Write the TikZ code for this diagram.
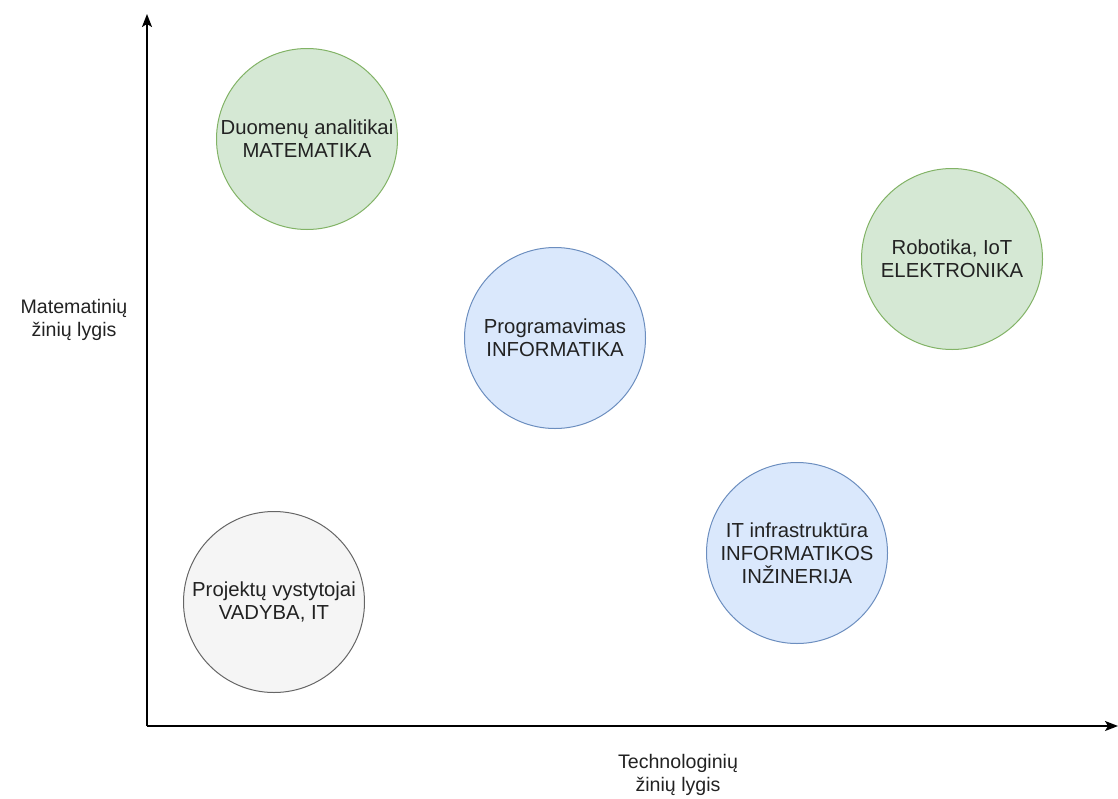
\documentclass[tikz,border=0pt]{standalone}
\usepackage{fontspec}
\setmainfont{Liberation Sans}
\usetikzlibrary{arrows.meta}
\definecolor{gfill}{HTML}{D5E8D4}\definecolor{gline}{HTML}{82B366}
\definecolor{bfill}{HTML}{DAE8FC}\definecolor{bline}{HTML}{6C8EBF}
\definecolor{nfill}{HTML}{F5F5F5}\definecolor{nline}{HTML}{666666}
\definecolor{txt}{HTML}{222222}
\begin{document}
\begin{tikzpicture}[x=1pt,y=-1pt,
  bubble/.style={circle,minimum size=181pt,inner sep=0pt,line width=1pt,align=center,text=txt,
     font=\fontsize{20.3}{23}\selectfont},
  green/.style={bubble,fill=gfill,draw=gline},
  blue/.style={bubble,fill=bfill,draw=bline},
  grey/.style={bubble,fill=nfill,draw=nline},
  axis/.style={line width=1.6pt,-{Stealth[length=13pt,width=10pt,inset=3pt]}},
  axlabel/.style={align=center,text=txt,font=\fontsize{19.6}{23.5}\selectfont}]
\useasboundingbox (0,0) rectangle (1118,798);
\coordinate (o) at (147,726);
\coordinate (ytip) at (147,14);
\coordinate (xtip) at (1118,726);
\draw[axis] (o) -- (ytip);
\draw[axis] (o) -- (xtip);
\node[green] (dat) at (307,139) {Duomenų analitikai\\MATEMATIKA};
\node[green] (rob) at (952,259) {Robotika, IoT\\ELEKTRONIKA};
\node[blue] (prog) at (555,338) {Programavimas\\INFORMATIKA};
\node[blue] (itinf) at (797,553) {IT infrastruktūra\\INFORMATIKOS\\INŽINERIJA};
\node[grey] (proj) at (274,602) {Projektų vystytojai\\VADYBA, IT};
\node[axlabel] (ylab) at (74,320) {Matematinių\\žinių lygis};
\node[axlabel] (xlab) at (678,775) {Technologinių\\žinių lygis};
\end{tikzpicture}
\end{document}
